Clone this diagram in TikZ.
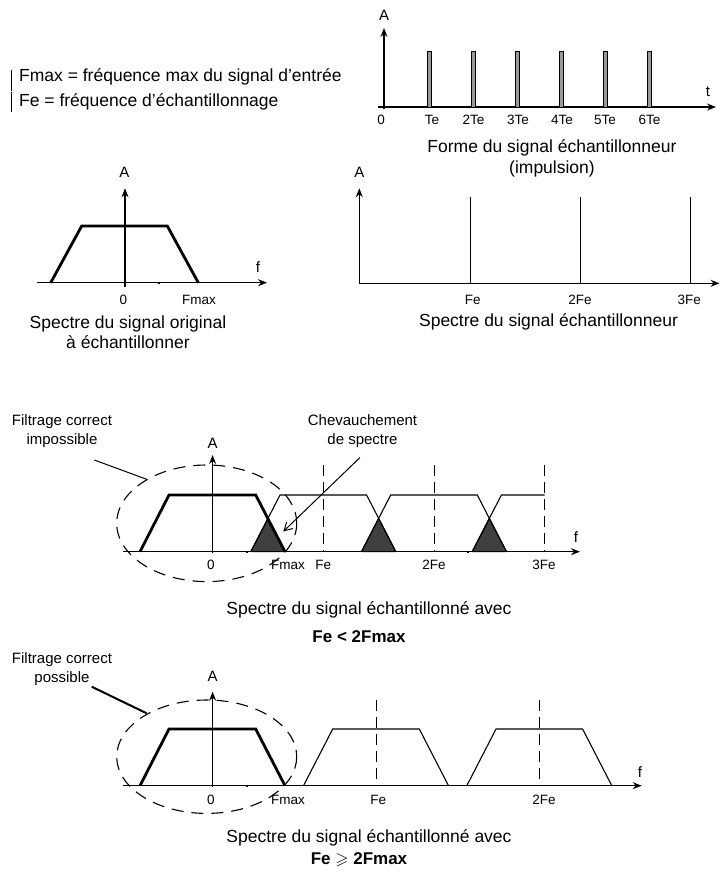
\documentclass[tikz,border=0pt]{standalone}
\usepackage{fontspec}
\usepackage{amssymb}
\setmainfont{Liberation Sans}
\usetikzlibrary{arrows.meta}
\begin{document}
\begin{tikzpicture}[x=1pt,y=-1pt,
  axis/.style={line width=1.2pt,-{Stealth[length=9pt,width=7pt,inset=3pt]}},
  spec/.style={line width=2.8pt,line join=miter},
  shifted/.style={line width=1.1pt},
  guide/.style={line width=1.1pt,dash pattern=on 11pt off 6pt},
  halo/.style={line width=1.1pt,dash pattern=on 12pt off 8pt},
  pulse/.style={line width=0.7pt,fill=black!40},
  ray/.style={line width=1.3pt},
  overlap/.style={fill=black!75,draw=black,line width=0.8pt,line join=round},
  txt/.style={font=\fontsize{17.5}{20.5}\selectfont,inner sep=0pt,align=center},
  bold/.style={font=\fontsize{17}{20}\selectfont\bfseries,inner sep=0pt},
  lbl/.style={font=\fontsize{13.5}{16}\selectfont,inner sep=0pt},
  axname/.style={font=\fontsize{15}{18}\selectfont,inner sep=0pt},
  note/.style={font=\fontsize{15}{18.3}\selectfont,inner sep=0pt,align=center},
  dot/.style={fill=black,inner sep=0pt,minimum size=2.2pt}
]
\fill[white] (0,0) rectangle (720,875);
\useasboundingbox (0,0) rectangle (720,875);

% ---------- legend ----------
\draw[line width=1pt] (11.7,70) -- (11.7,90.6);
\draw[line width=1pt] (11.7,92) -- (11.7,112);
\node[txt,anchor=west] (leg1) at (19,77) {Fmax = fréquence max du signal d’entrée};
\node[txt,anchor=west] (leg2) at (19,101.7) {Fe = fréquence d’échantillonnage};

% ---------- sampling pulse train ----------
\node[axname] (tA) at (384,15) {A};
\node[axname] (tt) at (708,92) {t};
\draw[axis] (384,109) -- (384,28);
\draw[axis] (378,107) -- (716,107);
\draw[line width=2.6pt] (384,63) -- (384,107);
\foreach \px in {429.3,473.5,517.5,561.5,605.5,649.5}
  \draw[pulse] (\px-1.7,51.7) rectangle (\px+1.7,107);
\node[lbl] (t0) at (381,120) {0};
\node[lbl] (t1) at (432,120) {Te};
\node[lbl] (t2) at (473.5,120) {2Te};
\node[lbl] (t3) at (518,120) {3Te};
\node[lbl] (t4) at (562,120) {4Te};
\node[lbl] (t5) at (605,120) {5Te};
\node[lbl] (t6) at (649.5,120) {6Te};
\node[txt] (tcap) at (552,158.5) {Forme du signal échantillonneur\\(impulsion)};

% ---------- spectrum of the original signal ----------
\node[axname] (oA) at (124.5,172) {A};
\node[axname] (of) at (258,267) {f};
\draw[axis] (125,287) -- (125,188.3);
\draw[axis] (37,282.7) -- (267,282.7);
\draw[spec] (50.7,282.7) -- (81.7,226) -- (167.3,226) -- (198.3,282.7);
\node[dot] (odot) at (159.3,282.7) {};
\node[lbl] (o0) at (123.5,300) {0};
\node[lbl] (ofm) at (199,300) {Fmax};
\node[txt] (ocap) at (128,332) {Spectre du signal original\\à échantillonner};

% ---------- spectrum of the sampling signal ----------
\node[axname] (sA) at (359.3,172) {A};
\draw[axis] (359.3,284) -- (359.3,188.3);
\draw[axis] (358.6,283.3) -- (719.5,283.3);
\foreach \px in {470.6,580.6,690.6}
  \draw[ray] (\px,196.7) -- (\px,283.3);
\node[lbl] (s1) at (472.7,300) {Fe};
\node[lbl] (s2) at (580,300) {2Fe};
\node[lbl] (s3) at (689.3,300) {3Fe};
\node[txt] (scap) at (548.5,322) {Spectre du signal échantillonneur};

% ---------- sampled spectrum, Fe < 2Fmax ----------
\fill[overlap] (250.8,551.7) -- (268,518.4) -- (285.1,551.7) -- cycle;
\fill[overlap] (361.5,551.7) -- (378.65,518.4) -- (395.8,551.7) -- cycle;
\fill[overlap] (472.2,551.7) -- (489.35,518.4) -- (506.5,551.7) -- cycle;
\draw[overlap,fill=none] (250.8,551.7) -- (268,518.4) -- (285.1,551.7);
\draw[overlap,fill=none] (361.5,551.7) -- (378.65,518.4) -- (395.8,551.7);
\draw[overlap,fill=none] (472.2,551.7) -- (489.35,518.4) -- (506.5,551.7);
\foreach \px in {323.5,434.5,544.5}
  \draw[guide] (\px,465) -- (\px,551.7);
\draw[shifted] (250.8,551.7) -- (280,495) -- (366.6,495) -- (395.8,551.7);
\draw[shifted] (361.5,551.7) -- (390.7,495) -- (477.3,495) -- (506.5,551.7);
\draw[shifted] (472.2,551.7) -- (501.4,495) -- (544.5,495);
\draw[axis] (212.6,553) -- (212.6,455);
\draw[axis] (123.3,551.7) -- (580,551.7);
\draw[spec] (140,551.7) -- (169,495) -- (255.7,495) -- (285,551.7);
\node[dot] (adot1) at (246.7,551.7) {};
\node[dot] (adot2) at (468.3,551.7) {};
\draw[halo] (206.7,523.3) ellipse [x radius=90, y radius=58.3];
\node[axname] (aA) at (212.6,443.3) {A};
\node[axname] (af) at (576,537) {f};
\node[lbl] (a0) at (211,565) {0};
\node[lbl] (afm) at (288,565) {Fmax};
\node[lbl] (a1) at (323.3,565) {Fe};
\node[lbl] (a2) at (434,565) {2Fe};
\node[lbl] (a3) at (544,565) {3Fe};
\node[note] (abad) at (62,431) {Filtrage correct\\impossible};
\coordinate (abadfrom) at (94.3,460);
\coordinate (abadto) at (146.7,479.3);
\draw[line width=1pt] (abadfrom) -- (abadto);
\node[note] (aover) at (362.5,431) {Chevauchement\\de spectre};
\coordinate (aoverfrom) at (360,457.5);
\coordinate (aoverto) at (283.3,531.5);
\draw[line width=1pt,-{Straight Barb[length=8pt,width=9pt]}] (aoverfrom) -- (aoverto);
\node[txt] (acap1) at (369,610) {Spectre du signal échantillonné avec};
\node[bold] (acap2) at (359,636.7) {Fe < 2Fmax};

% ---------- sampled spectrum, Fe >= 2Fmax ----------
\foreach \px in {376.5,539.5}
  \draw[guide] (\px,700) -- (\px,785.7);
\draw[shifted] (303.5,785.7) -- (332.7,729) -- (419.3,729) -- (448.5,785.7);
\draw[shifted] (466.8,785.7) -- (496,729) -- (582.6,729) -- (611.8,785.7);
\draw[axis] (212.6,787) -- (212.6,691.7);
\draw[axis] (123.3,785.7) -- (641.7,785.7);
\draw[spec] (140,785.7) -- (169,729) -- (255.7,729) -- (285,785.7);
\node[dot] (bdot) at (246.7,785.7) {};
\draw[halo] (206.7,756.7) ellipse [x radius=90, y radius=56.7];
\node[axname] (bA) at (212.6,676.7) {A};
\node[axname] (bf) at (640,771.7) {f};
\node[lbl] (b0) at (211,800) {0};
\node[lbl] (bfm) at (288,800) {Fmax};
\node[lbl] (b1) at (378.3,800) {Fe};
\node[lbl] (b2) at (544,800) {2Fe};
\node[note] (bgood) at (62,669) {Filtrage correct\\possible};
\coordinate (bgoodfrom) at (91.7,686.7);
\coordinate (bgoodto) at (146.7,713.3);
\draw[line width=2pt] (bgoodfrom) -- (bgoodto);
\node[txt] (bcap1) at (369,838.3) {Spectre du signal échantillonné avec};
\node[bold] (bcap2) at (359,860) {Fe $\geqslant$ 2Fmax};
\end{tikzpicture}
\end{document}
